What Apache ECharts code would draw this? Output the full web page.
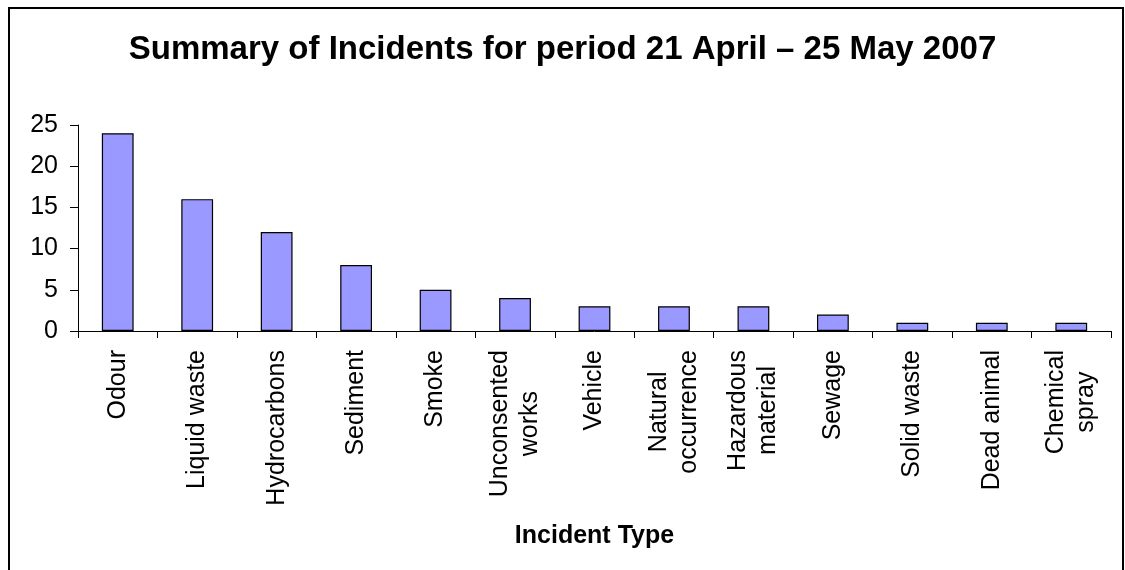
<!DOCTYPE html>
<html>
<head>
<meta charset="utf-8">
<script src="https://cdn.jsdelivr.net/npm/echarts@6/dist/echarts.min.js"></script>
<style>html,body{margin:0;padding:0;background:#fff}#c{width:1125px;height:570px}</style>
</head>
<body>
<div id="c"></div>
<script>
var categories = ['Odour','Liquid waste','Hydrocarbons','Sediment','Smoke','Unconsented\nworks','Vehicle','Natural\noccurrence','Hazardous\nmaterial','Sewage','Solid waste','Dead animal','Chemical\nspray'];
var incidents = [24,16,12,8,5,4,3,3,3,2,1,1,1];
var yTicks = [0,5,10,15,20,25];
var FONT = '"Liberation Sans", Arial, sans-serif';
var chart = echarts.init(document.getElementById('c'));
chart.setOption({
  animation: false,
  backgroundColor: '#fff',
  title: {
    text: 'Summary of Incidents for period 21 April \u2013 25 May 2007',
    left: 'center', top: 28,
    textStyle: {fontFamily: FONT, fontSize: 33, fontWeight: 'bold', color: '#000'}
  },
  graphic: [{
    type: 'rect', shape: {x: 9, y: 8, width: 1114, height: 600},
    style: {fill: 'none', stroke: '#000', lineWidth: 2}, silent: true
  }],
  grid: {left: 78, right: 14, top: 125, bottom: 239},
  xAxis: {
    type: 'category', data: categories,
    name: 'Incident Type', nameLocation: 'middle', nameGap: 193,
    nameTextStyle: {fontFamily: FONT, fontSize: 25, fontWeight: 'bold', color: '#000'},
    axisLine: {lineStyle: {color: '#000', width: 1}},
    axisTick: {show: true, length: 7, lineStyle: {color: '#000'}},
    axisLabel: {
      rotate: 90, margin: 19, interval: 0,
      fontFamily: FONT, fontSize: 25, color: '#000',
      formatter: function (v) { return v.split('\n').map(function (s) { return '{c|' + s + '}'; }).join('\n'); },
      rich: {c: {align: 'center', fontFamily: FONT, fontSize: 25, lineHeight: 30, color: '#000'}}
    }
  },
  yAxis: {
    type: 'value', min: yTicks[0], max: yTicks[yTicks.length - 1], interval: 5,
    axisLine: {show: true, lineStyle: {color: '#000', width: 1}},
    axisTick: {show: true, length: 8, lineStyle: {color: '#000'}},
    splitLine: {show: false},
    axisLabel: {fontFamily: FONT, fontSize: 25, color: '#000', margin: 20}
  },
  series: [{
    type: 'bar', data: incidents, barWidth: '40%',
    itemStyle: {color: '#9999FF', borderColor: '#000', borderWidth: 1.2}
  }]
});
</script>
</body>
</html>
